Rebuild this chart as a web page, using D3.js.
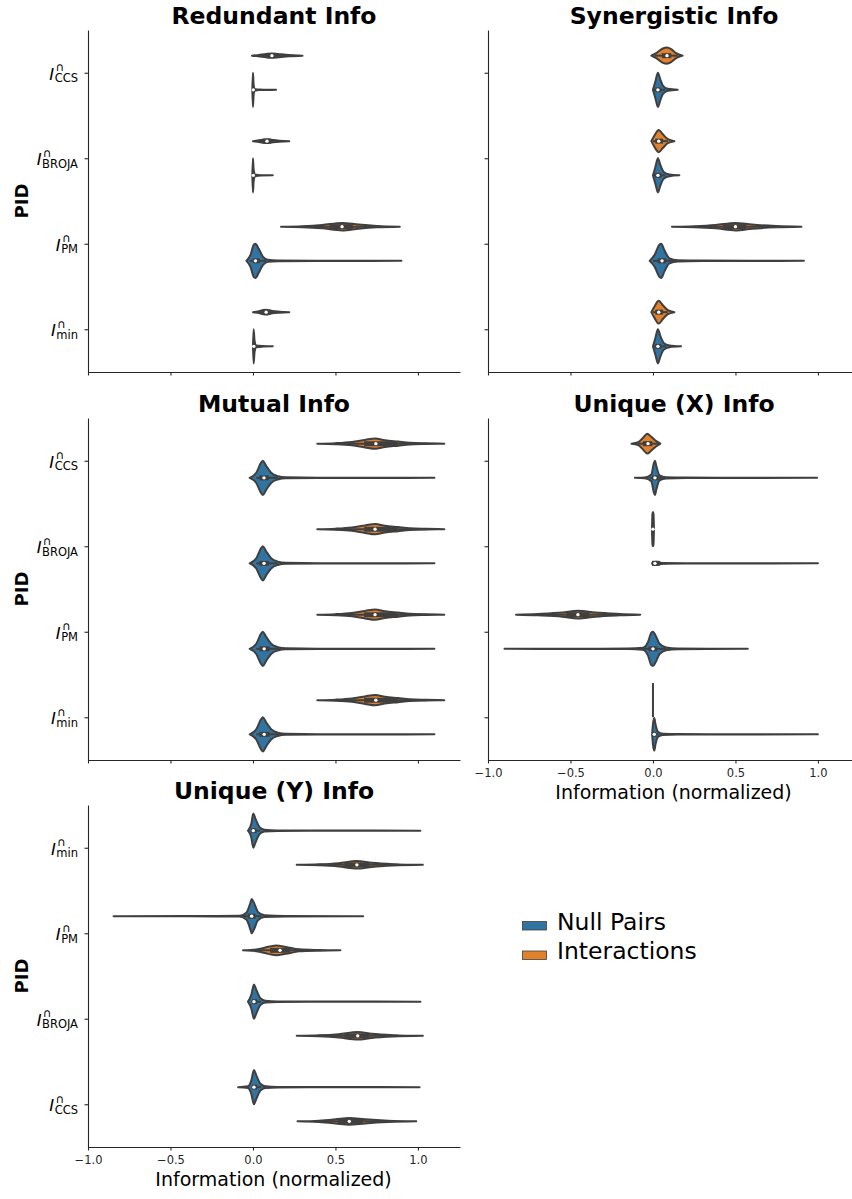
<!DOCTYPE html>
<html>
<head>
<meta charset="utf-8">
<script src="https://cdn.jsdelivr.net/npm/d3@7"></script>
<style>
body { margin: 0; background: #fff; }
svg { display: block; font-family: "DejaVu Sans", sans-serif; }
</style>
</head>
<body>
<svg id="chart" width="852" height="1199"></svg>
<script>
// categories / hues / ticks
var hues = ["Null Pairs", "Interactions"];
var pidOrder = ["CCS", "BROJA", "PM", "min"];
var pidOrderY = ["min", "PM", "BROJA", "CCS"];
var xTicks = [-1.0, -0.5, 0.0, 0.5, 1.0];

// each violin: knots = [value, relative half width], box = [whiskLo, q1, median, q3, whiskHi]
var redundantViolins = [
    {pid: "CCS", hue: "Interactions", knots: [[-0.006,0],[0.03,0.03],[0.08,0.1],[0.115,0.13],[0.15,0.1],[0.22,0.04],[0.30,0]], box: [0.0,0.085,0.115,0.15,0.25]},
    {pid: "CCS", hue: "Null Pairs", knots: [[-0.004,0],[0.0,1.0],[0.004,0.3],[0.01,0.05],[0.04,0.015],[0.08,0.01],[0.14,0]], box: [0.0,0.0,0.002,0.006,0.015]},
    {pid: "BROJA", hue: "Interactions", knots: [[0.0,0],[0.03,0.04],[0.07,0.1],[0.085,0.11],[0.11,0.08],[0.16,0.03],[0.22,0]], box: [0.01,0.065,0.085,0.105,0.16]},
    {pid: "BROJA", hue: "Null Pairs", knots: [[-0.004,0],[0.0,1.0],[0.004,0.35],[0.012,0.05],[0.05,0.01],[0.12,0]], box: [0.0,0.0,0.002,0.006,0.015]},
    {pid: "PM", hue: "Interactions", knots: [[0.17,0],[0.3,0.03],[0.42,0.1],[0.54,0.22],[0.64,0.12],[0.75,0.04],[0.89,0]], box: [0.3,0.47,0.54,0.6,0.78]},
    {pid: "PM", hue: "Null Pairs", knots: [[-0.04,0],[-0.015,0.35],[0.005,0.95],[0.015,1.0],[0.035,0.7],[0.06,0.25],[0.09,0.06],[0.15,0.02],[0.5,0.01],[0.9,0]], box: [-0.02,0.005,0.015,0.035,0.08]},
    {pid: "min", hue: "Interactions", knots: [[0.0,0],[0.03,0.04],[0.065,0.13],[0.08,0.14],[0.11,0.08],[0.16,0.03],[0.22,0]], box: [0.01,0.06,0.08,0.1,0.15]},
    {pid: "min", hue: "Null Pairs", knots: [[0.0,0],[0.004,1.0],[0.01,0.3],[0.02,0.05],[0.06,0.015],[0.12,0]], box: [0.0,0.002,0.005,0.01,0.02]}
];

var synergisticViolins = [
    {pid: "CCS", hue: "Interactions", knots: [[-0.01,0],[0.02,0.15],[0.06,0.42],[0.085,0.47],[0.11,0.38],[0.14,0.15],[0.18,0]], box: [0.01,0.06,0.085,0.105,0.15]},
    {pid: "CCS", hue: "Null Pairs", knots: [[0.0,0],[0.015,0.5],[0.03,1.0],[0.045,0.6],[0.06,0.25],[0.09,0.06],[0.15,0]], box: [0.005,0.02,0.03,0.045,0.075]},
    {pid: "BROJA", hue: "Interactions", knots: [[-0.01,0],[0.01,0.35],[0.035,0.65],[0.06,0.4],[0.09,0.12],[0.13,0]], box: [0.0,0.02,0.035,0.055,0.09]},
    {pid: "BROJA", hue: "Null Pairs", knots: [[0.0,0],[0.015,0.5],[0.03,1.0],[0.045,0.6],[0.065,0.2],[0.1,0.05],[0.16,0]], box: [0.005,0.02,0.03,0.045,0.075]},
    {pid: "PM", hue: "Interactions", knots: [[0.115,0],[0.25,0.03],[0.38,0.1],[0.5,0.22],[0.6,0.12],[0.75,0.04],[0.9,0]], box: [0.28,0.43,0.5,0.56,0.73]},
    {pid: "PM", hue: "Null Pairs", knots: [[-0.02,0],[0.01,0.35],[0.04,0.95],[0.05,1.0],[0.07,0.6],[0.1,0.15],[0.15,0.04],[0.3,0.015],[0.6,0.01],[0.915,0]], box: [0.0,0.035,0.055,0.075,0.13]},
    {pid: "min", hue: "Interactions", knots: [[-0.01,0],[0.01,0.35],[0.035,0.67],[0.06,0.4],[0.09,0.12],[0.13,0]], box: [0.0,0.02,0.035,0.055,0.09]},
    {pid: "min", hue: "Null Pairs", knots: [[0.0,0],[0.015,0.5],[0.03,1.0],[0.045,0.6],[0.065,0.2],[0.1,0.05],[0.17,0]], box: [0.005,0.02,0.03,0.045,0.08]}
];

var mutualViolins = [
    {pid: "CCS", hue: "Interactions", knots: [[0.39,0],[0.5,0.03],[0.6,0.1],[0.68,0.22],[0.74,0.3],[0.8,0.2],[0.88,0.12],[0.95,0.05],[1.05,0.02],[1.16,0]], box: [0.5,0.68,0.745,0.87,1.05]},
    {pid: "CCS", hue: "Null Pairs", knots: [[-0.02,0],[0.02,0.3],[0.05,0.9],[0.06,1.0],[0.08,0.7],[0.11,0.3],[0.15,0.1],[0.2,0.03],[0.4,0.012],[0.8,0.01],[1.10,0]], box: [0.02,0.045,0.067,0.09,0.15]},
    {pid: "BROJA", hue: "Interactions", knots: [[0.39,0],[0.5,0.03],[0.6,0.1],[0.68,0.22],[0.74,0.3],[0.8,0.2],[0.88,0.12],[0.95,0.05],[1.05,0.02],[1.16,0]], box: [0.5,0.68,0.74,0.87,1.05]},
    {pid: "BROJA", hue: "Null Pairs", knots: [[-0.02,0],[0.02,0.3],[0.05,0.9],[0.06,1.0],[0.08,0.7],[0.11,0.3],[0.15,0.1],[0.2,0.03],[0.4,0.012],[0.8,0.01],[1.10,0]], box: [0.02,0.045,0.067,0.09,0.15]},
    {pid: "PM", hue: "Interactions", knots: [[0.39,0],[0.5,0.03],[0.6,0.1],[0.68,0.22],[0.74,0.3],[0.8,0.2],[0.88,0.12],[0.95,0.05],[1.05,0.02],[1.16,0]], box: [0.5,0.68,0.74,0.87,1.05]},
    {pid: "PM", hue: "Null Pairs", knots: [[-0.02,0],[0.02,0.3],[0.05,0.9],[0.06,1.0],[0.08,0.7],[0.11,0.3],[0.15,0.1],[0.2,0.03],[0.4,0.012],[0.8,0.01],[1.10,0]], box: [0.02,0.045,0.068,0.095,0.16]},
    {pid: "min", hue: "Interactions", knots: [[0.39,0],[0.5,0.03],[0.6,0.1],[0.68,0.22],[0.74,0.3],[0.8,0.2],[0.88,0.12],[0.95,0.05],[1.05,0.02],[1.16,0]], box: [0.5,0.68,0.745,0.87,1.05]},
    {pid: "min", hue: "Null Pairs", knots: [[-0.02,0],[0.02,0.3],[0.05,0.9],[0.06,1.0],[0.08,0.7],[0.11,0.3],[0.15,0.1],[0.2,0.03],[0.4,0.012],[0.8,0.01],[1.10,0]], box: [0.02,0.045,0.068,0.095,0.16]}
];

var uniqueXViolins = [
    {pid: "CCS", hue: "Interactions", knots: [[-0.13,0],[-0.09,0.08],[-0.06,0.35],[-0.035,0.58],[-0.01,0.4],[0.02,0.15],[0.045,0]], box: [-0.09,-0.055,-0.03,-0.01,0.03]},
    {pid: "CCS", hue: "Null Pairs", knots: [[-0.11,0],[-0.05,0.02],[-0.01,0.2],[0.005,0.85],[0.012,1.0],[0.02,0.7],[0.04,0.15],[0.08,0.04],[0.2,0.015],[0.6,0.01],[0.995,0]], box: [-0.02,0.0,0.012,0.03,0.06]},
    {pid: "BROJA", hue: "Interactions", knots: [[-0.006,0],[-0.003,0.9],[0.0,1.0],[0.003,0.9],[0.006,0]], box: [-0.004,-0.002,0.0,0.003,0.006]},
    {pid: "BROJA", hue: "Null Pairs", knots: [[-0.005,0],[0.0,0.08],[0.02,0.1],[0.04,0.06],[0.06,0.02],[0.2,0.01],[1.0,0]], box: [0.0,0.0,0.012,0.035,0.08]},
    {pid: "PM", hue: "Interactions", knots: [[-0.83,0],[-0.7,0.04],[-0.55,0.12],[-0.455,0.23],[-0.35,0.12],[-0.2,0.04],[-0.077,0]], box: [-0.68,-0.52,-0.455,-0.39,-0.22]},
    {pid: "PM", hue: "Null Pairs", knots: [[-0.9,0],[-0.5,0.01],[-0.15,0.015],[-0.06,0.06],[-0.03,0.4],[-0.01,0.95],[0.0,1.0],[0.015,0.8],[0.04,0.3],[0.08,0.08],[0.15,0.02],[0.575,0]], box: [-0.06,-0.02,0.0,0.02,0.08]},
    {pid: "min", hue: "Interactions", knots: [[0.0,1.0]], box: null},
    {pid: "min", hue: "Null Pairs", knots: [[-0.005,0],[0.0,0.6],[0.008,0.95],[0.015,0.6],[0.03,0.15],[0.06,0.04],[0.15,0.015],[0.5,0.01],[1.0,0]], box: [0.0,0.003,0.008,0.015,0.035]}
];

var uniqueYViolins = [
    {pid: "min", hue: "Null Pairs", knots: [[-0.03,0],[-0.01,0.4],[0.002,1.0],[0.015,0.7],[0.04,0.2],[0.07,0.05],[0.15,0.015],[0.5,0.01],[1.015,0]], box: [-0.015,-0.005,0.002,0.015,0.045]},
    {pid: "min", hue: "Interactions", knots: [[0.265,0],[0.4,0.03],[0.52,0.1],[0.63,0.22],[0.72,0.12],[0.85,0.04],[1.03,0]], box: [0.4,0.56,0.63,0.7,0.88]},
    {pid: "PM", hue: "Null Pairs", knots: [[-0.845,0],[-0.4,0.01],[-0.08,0.02],[-0.04,0.2],[-0.015,0.8],[-0.008,1.0],[0.005,0.8],[0.03,0.25],[0.07,0.05],[0.2,0.015],[0.668,0]], box: [-0.06,-0.025,-0.008,0.01,0.05]},
    {pid: "PM", hue: "Interactions", knots: [[-0.06,0],[0.02,0.05],[0.1,0.22],[0.14,0.28],[0.2,0.2],[0.28,0.06],[0.4,0.02],[0.53,0]], box: [-0.02,0.11,0.164,0.22,0.38]},
    {pid: "BROJA", hue: "Null Pairs", knots: [[-0.03,0],[-0.01,0.4],[0.006,1.0],[0.02,0.7],[0.045,0.2],[0.075,0.05],[0.15,0.015],[0.5,0.01],[1.015,0]], box: [-0.01,0.0,0.006,0.02,0.05]},
    {pid: "BROJA", hue: "Interactions", knots: [[0.265,0],[0.4,0.03],[0.52,0.1],[0.635,0.22],[0.72,0.12],[0.85,0.04],[1.03,0]], box: [0.4,0.56,0.635,0.7,0.88]},
    {pid: "CCS", hue: "Null Pairs", knots: [[-0.09,0],[-0.03,0.05],[-0.01,0.4],[0.006,1.0],[0.02,0.7],[0.045,0.2],[0.075,0.05],[0.15,0.015],[0.5,0.01],[1.01,0]], box: [-0.01,0.0,0.006,0.02,0.05]},
    {pid: "CCS", hue: "Interactions", knots: [[0.27,0],[0.4,0.04],[0.5,0.12],[0.584,0.2],[0.68,0.12],[0.82,0.04],[0.99,0]], box: [0.37,0.52,0.584,0.66,0.85]}
];

var colors = {"Null Pairs": "#3274a1", "Interactions": "#e1812c"};
var edge = "#3f3f3f";

var svg = d3.select("#chart");

var panelW = 372, panelH = 342;
var panels = [
    {title: "Redundant Info", data: redundantViolins, cats: pidOrder, hueOrder: ["Interactions", "Null Pairs"], left: 88, top: 30, yLabels: true, xLabels: false},
    {title: "Synergistic Info", data: synergisticViolins, cats: pidOrder, hueOrder: ["Interactions", "Null Pairs"], left: 488, top: 30, yLabels: false, xLabels: false},
    {title: "Mutual Info", data: mutualViolins, cats: pidOrder, hueOrder: ["Interactions", "Null Pairs"], left: 88, top: 418, yLabels: true, xLabels: false},
    {title: "Unique (X) Info", data: uniqueXViolins, cats: pidOrder, hueOrder: ["Interactions", "Null Pairs"], left: 488, top: 418, yLabels: false, xLabels: true},
    {title: "Unique (Y) Info", data: uniqueYViolins, cats: pidOrderY, hueOrder: ["Null Pairs", "Interactions"], left: 88, top: 805, yLabels: true, xLabels: true}
];

var x = d3.scaleLinear().domain([-1.0, 1.255]).range([0, panelW]);
var y = d3.scaleLinear().domain([-0.5, 3.5]).range([0, panelH]);
var maxHW = y(0.2) - y(0);

function fmt(d) {
    return d3.format(".1f")(d).replace("-", "\u2212");
}

// width of the superscript cap, used to stack sup and sub in one text
var probe = svg.append("text").style("font-size", "11.5px").text("\u2229");
var capW = probe.node().getComputedTextLength();
probe.remove();

function mathLabel(g, sub, yPos) {
    var t = g.append("text")
        .attr("x", -10).attr("y", yPos + 7)
        .attr("text-anchor", "end");
    t.append("tspan").style("font-size", "16.5px").style("font-style", "italic").text("I");
    t.append("tspan").attr("dx", 1.5).attr("dy", -8.5).style("font-size", "11.5px").text("\u2229");
    t.append("tspan").attr("dx", -capW - 1).attr("dy", 11).style("font-size", "11.5px").text(sub);
}

panels.forEach(function(p) {
    var g = svg.append("g").attr("transform", "translate(" + p.left + "," + p.top + ")");

    g.append("text")
        .attr("x", panelW / 2).attr("y", -6.5)
        .attr("text-anchor", "middle")
        .style("font-size", "23.5px").style("font-weight", "bold")
        .text(p.title);

    // violins
    p.data.forEach(function(v) {
        var ci = p.cats.indexOf(v.pid);
        var off = p.hueOrder.indexOf(v.hue) === 0 ? -0.2 : 0.2;
        var cy = y(ci + off);

        if (v.knots.length === 1) {
            // single observation: line across the violin width
            g.append("line")
                .attr("x1", x(v.knots[0][0])).attr("x2", x(v.knots[0][0]))
                .attr("y1", cy - maxHW * v.knots[0][1]).attr("y2", cy + maxHW * v.knots[0][1])
                .attr("stroke", edge).attr("stroke-width", 2);
            return;
        }

        var area = d3.area()
            .curve(d3.curveMonotoneX)
            .x(function(d) { return x(d[0]); })
            .y0(function(d) { return cy - d[1] * maxHW; })
            .y1(function(d) { return cy + d[1] * maxHW; });

        g.append("path")
            .attr("d", area(v.knots))
            .attr("fill", colors[v.hue])
            .attr("stroke", edge)
            .attr("stroke-width", 2)
            .attr("stroke-linejoin", "round");

        if (v.box) {
            g.append("line")
                .attr("x1", x(v.box[0])).attr("x2", x(v.box[4]))
                .attr("y1", cy).attr("y2", cy)
                .attr("stroke", edge).attr("stroke-width", 2);
            g.append("line")
                .attr("x1", x(v.box[1]) - 1).attr("x2", x(v.box[3]) + 1)
                .attr("y1", cy).attr("y2", cy)
                .attr("stroke", edge).attr("stroke-width", 5);
            g.append("circle")
                .attr("cx", x(v.box[2])).attr("cy", cy)
                .attr("r", 1.7)
                .attr("fill", "#fff");
        }
    });

    // axes
    var xAxis = d3.axisBottom(x).tickValues(xTicks).tickSize(3.5).tickSizeOuter(0)
        .tickFormat(p.xLabels ? fmt : "");
    var gx = g.append("g")
        .attr("transform", "translate(0," + panelH + ")")
        .call(xAxis);
    gx.selectAll("text").style("font-size", "11.5px").style("font-family", "DejaVu Sans").attr("dy", "0.95em").attr("fill", "#262626");

    var yAxis = d3.axisLeft(y).tickValues([0, 1, 2, 3]).tickSize(3.5).tickSizeOuter(0).tickFormat("");
    g.append("g").call(yAxis);

    g.selectAll(".domain").attr("stroke", "#262626").attr("stroke-width", 1.1);
    g.selectAll(".tick line").attr("stroke", "#262626").attr("stroke-width", 1.1);

    if (p.yLabels) {
        p.cats.forEach(function(c, i) { mathLabel(g, c, y(i)); });
        g.append("text")
            .attr("transform", "translate(-60," + (panelH / 2) + ") rotate(-90)")
            .attr("text-anchor", "middle")
            .style("font-size", "18px").style("font-weight", "bold")
            .text("PID");
    }
    if (p.xLabels) {
        g.append("text")
            .attr("x", x(0.125)).attr("y", panelH + 39)
            .attr("text-anchor", "middle")
            .style("font-size", "19px")
            .text("Information (normalized)");
    }
});

// legend
var legend = svg.append("g").attr("transform", "translate(522,917)");
hues.forEach(function(h, i) {
    legend.append("rect")
        .attr("x", 0.5).attr("y", i * 29.5 + 4.5)
        .attr("width", 24).attr("height", 8.5)
        .attr("fill", colors[h]).attr("stroke", edge).attr("stroke-width", 0.8);
    legend.append("text")
        .attr("x", 35).attr("y", i * 29.5 + 12.5)
        .style("font-size", "23.5px")
        .text(h);
});
</script>
</body>
</html>
